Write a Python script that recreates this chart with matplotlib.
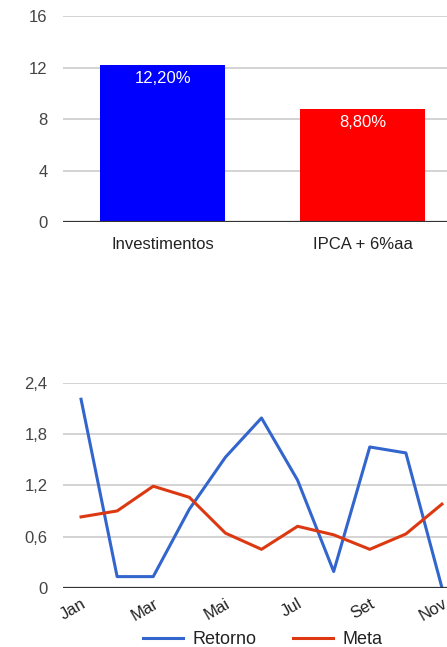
import matplotlib
matplotlib.use("Agg")
from matplotlib import pyplot as plt

# dados do gráfico de barras
categorias = ['Investimentos', 'IPCA + 6%aa']
rentabilidade = [12.2, 8.8]
rotulos_barras = ['12,20%', '8,80%']
cores_barras = ['#0000ff', '#ff0000']

# dados do gráfico de linhas
meses = ['Jan', 'Fev', 'Mar', 'Abr', 'Mai', 'Jun', 'Jul', 'Ago', 'Set', 'Out', 'Nov']
retorno = [2.21, 0.13, 0.13, 0.92, 1.53, 1.99, 1.26, 0.19, 1.65, 1.58, 0.0]
meta = [0.83, 0.90, 1.19, 1.06, 0.64, 0.45, 0.72, 0.62, 0.45, 0.63, 0.98]

plt.rcParams['font.family'] = ['Liberation Sans', 'DejaVu Sans']
W, H = 447, 647
fig = plt.figure(figsize=(W / 100, H / 100), dpi=100)

cinza_txt = '#444444'
fs = 12


def estilo(ax):
    for s in ax.spines.values():
        s.set_visible(False)
    ax.tick_params(length=0, labelsize=fs, colors=cinza_txt, pad=11)
    ax.grid(axis='y', color='#cccccc', linewidth=1.2)
    ax.set_axisbelow(True)


# barras
ax1 = fig.add_axes([63 / W, 1 - 222 / H, 400 / W, 206 / H])
x = list(range(len(categorias)))
ax1.bar(x, rentabilidade, width=0.625, color=cores_barras)
for xi, v, r in zip(x, rentabilidade, rotulos_barras):
    ax1.text(xi, v - 0.5, r, ha='center', va='top', color='white', fontsize=fs)
ax1.set_xlim(-0.5, 1.5)
ax1.set_ylim(0, 16)
ax1.set_yticks([0, 4, 8, 12, 16])
ax1.set_xticks(x)
ax1.set_xticklabels(categorias)
estilo(ax1)
ax1.tick_params(axis='x', pad=11, colors='#222222')
ax1.axhline(0, color='#333333', linewidth=1.6, zorder=3)

# linhas
ax2 = fig.add_axes([63 / W, 1 - 587.7 / H, 397 / W, 204.7 / H])
xm = list(range(len(meses)))
ax2.plot(xm, retorno, color='#3366cc', linewidth=2.2, label='Retorno')
ax2.plot(xm, meta, color='#dc3912', linewidth=2.2, label='Meta')
ax2.set_xlim(-0.5, 10.5)
ax2.set_ylim(0, 2.4)
ax2.set_yticks([0, 0.6, 1.2, 1.8, 2.4])
ax2.set_yticklabels(['0', '0,6', '1,2', '1,8', '2,4'])
ax2.set_xticks(xm[::2])
ax2.set_xticklabels(meses[::2], rotation=30, ha='right', va='top', rotation_mode='anchor')
estilo(ax2)
ax2.tick_params(axis='x', pad=6, colors='#222222')
ax2.axhline(0, color='#333333', linewidth=1.6, zorder=3)
ax2.legend(loc='center', bbox_to_anchor=(263 / W, 1 - 640 / H), bbox_transform=fig.transFigure,
           ncol=2, frameon=False, fontsize=13, handlelength=2.2, columnspacing=2.0,
           handletextpad=0.55, labelcolor='#222222')

plt.savefig('out.png', dpi=100)
